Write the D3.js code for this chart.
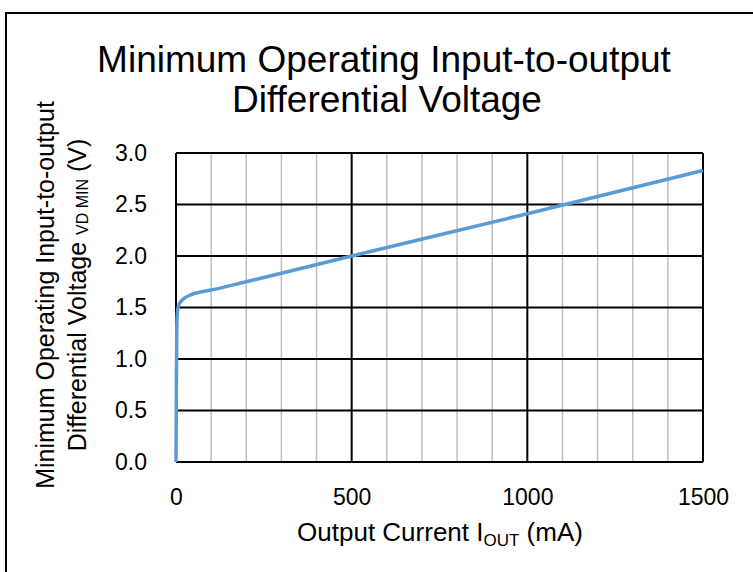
<!DOCTYPE html>
<html><head><meta charset="utf-8">
<script src="https://cdn.jsdelivr.net/npm/d3@7"></script>
<style>body{margin:0;background:#fff}svg{display:block}text{font-family:"Liberation Sans",Arial,sans-serif;fill:#000}</style>
</head><body>
<svg id="c" width="753" height="572"></svg>
<script>
const currents = [0, 0.5, 1, 2, 3, 5, 10, 20, 40, 70, 100, 200, 500, 1000, 1500];
const voltages = [0, 0.3, 0.7, 1.2, 1.4, 1.48, 1.54, 1.58, 1.62, 1.65, 1.67, 1.75, 2.0, 2.41, 2.83];
const xTicks = [0, 500, 1000, 1500];
const xMinor = [100,200,300,400,600,700,800,900,1100,1200,1300,1400];
const yTicks = [0, 0.5, 1.0, 1.5, 2.0, 2.5, 3.0];

const svg = d3.select("#c");
const L = 176, R = 703, T = 153, B = 462;
const x = d3.scaleLinear().domain([0,1500]).range([L,R]);
const y = d3.scaleLinear().domain([0,3]).range([B,T]);

svg.append("rect").attr("x",6).attr("y",13).attr("width",800).attr("height",700)
  .attr("fill","none").attr("stroke","#000").attr("stroke-width",2);

svg.append("g").selectAll("line").data(xMinor).join("line")
  .attr("x1",d=>x(d)).attr("x2",d=>x(d)).attr("y1",T).attr("y2",B)
  .attr("stroke","#bfbfbf").attr("stroke-width",1.5);
svg.append("g").selectAll("line").data(xTicks).join("line")
  .attr("x1",d=>x(d)).attr("x2",d=>x(d)).attr("y1",T).attr("y2",B)
  .attr("stroke","#000").attr("stroke-width",2);
svg.append("g").selectAll("line").data(yTicks).join("line")
  .attr("x1",L).attr("x2",R).attr("y1",d=>y(d)).attr("y2",d=>y(d))
  .attr("stroke","#000").attr("stroke-width",2);

const yAxis = svg.append("g").attr("transform",`translate(${L},0)`)
  .call(d3.axisLeft(y).tickValues(yTicks).tickFormat(d3.format(".1f")).tickSize(0).tickPadding(29));
yAxis.select(".domain").remove();
yAxis.attr("font-family",null).attr("font-size",null);
yAxis.selectAll("text").style("font-size","23px");
const xAxis = svg.append("g").attr("transform",`translate(0,${B})`)
  .call(d3.axisBottom(x).tickValues(xTicks).tickFormat(d3.format("d")).tickSize(0).tickPadding(27));
xAxis.select(".domain").remove();
xAxis.attr("font-family",null).attr("font-size",null);
xAxis.selectAll("text").style("font-size","23px");

const line = d3.line().x((d,i)=>x(currents[i])).y(d=>y(d)).curve(d3.curveMonotoneX);
svg.append("path").attr("d",line(voltages)).attr("fill","none")
  .attr("stroke","#5b9bd5").attr("stroke-width",3.5).attr("stroke-linejoin","round");

svg.append("text").attr("x",384).attr("y",72).attr("text-anchor","middle").style("font-size","37px")
  .text("Minimum Operating Input-to-output");
svg.append("text").attr("x",387).attr("y",112).attr("text-anchor","middle").style("font-size","37px")
  .text("Differential Voltage");

const yt = svg.append("g").attr("transform","translate(0,295) rotate(-90)");
yt.append("text").attr("x",0).attr("y",54).attr("text-anchor","middle").style("font-size","25px")
  .text("Minimum Operating Input-to-output");
const t2 = yt.append("text").attr("x",0).attr("y",86).attr("text-anchor","middle").style("font-size","25px");
t2.append("tspan").text("Differential Voltage ");
t2.append("tspan").style("font-size","16px").attr("dy",2).text(" VD MIN");
t2.append("tspan").attr("dy",-2).text(" (V)");

const xt = svg.append("text").attr("x",440).attr("y",541).attr("text-anchor","middle").style("font-size","26px");
xt.append("tspan").text("Output Current I");
xt.append("tspan").style("font-size","17px").attr("dy",5).text("OUT");
xt.append("tspan").attr("dy",-5).text(" (mA)");
</script>
</body></html>
